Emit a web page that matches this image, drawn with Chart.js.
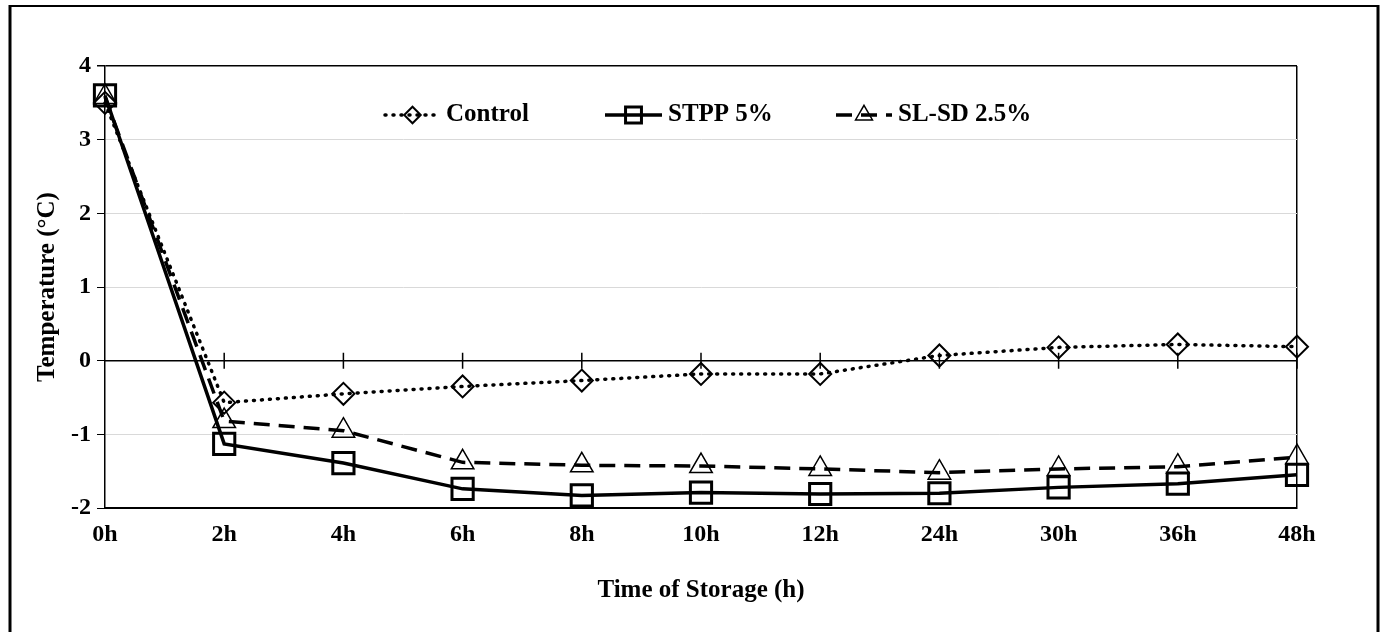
<!DOCTYPE html>
<html>
<head>
<meta charset="utf-8">
<script src="https://cdn.jsdelivr.net/npm/chart.js@4.4.0/dist/chart.umd.min.js"></script>
<style>
  body { margin: 0; background: #fff; }
  canvas { display: block; }
</style>
</head>
<body>
<canvas id="myChart" width="1383" height="632"></canvas>
<script>
// données
const labels = ['0h', '2h', '4h', '6h', '8h', '10h', '12h', '24h', '30h', '36h', '48h'];
const control = [3.5, -0.57, -0.45, -0.35, -0.27, -0.18, -0.18, 0.07, 0.18, 0.22, 0.19];
const stpp = [3.6, -1.13, -1.39, -1.74, -1.83, -1.79, -1.81, -1.8, -1.72, -1.67, -1.55];
const slsd = [3.58, -0.82, -0.95, -1.38, -1.42, -1.43, -1.47, -1.52, -1.47, -1.44, -1.31];
const yTicks = [-2, -1, 0, 1, 2, 3, 4];

const FONT = "'Liberation Serif', 'Times New Roman', serif";

// legende dessinee dans la zone du graphique
const legendItems = [
  { idx: 0, x0: 385, x1: 440, text: 'Control' },
  { idx: 1, x0: 605, x1: 662, text: 'STPP 5%' },
  { idx: 2, x0: 836, x1: 892, text: 'SL-SD 2.5%' }
];

const extras = {
  id: 'extras',
  beforeDatasetsDraw(chart) {
    // axe horizontal a 0 avec graduations
    const ctx = chart.ctx;
    const x = chart.scales.x, y = chart.scales.y;
    const y0 = y.getPixelForValue(0);
    ctx.save();
    ctx.strokeStyle = '#000';
    ctx.lineWidth = 1.5;
    ctx.beginPath();
    ctx.moveTo(chart.chartArea.left, y0);
    ctx.lineTo(chart.chartArea.right, y0);
    for (let i = 1; i < labels.length; i++) {
      const px = x.getPixelForValue(i);
      ctx.moveTo(px, y0 - 8);
      ctx.lineTo(px, y0 + 8);
    }
    ctx.stroke();
    ctx.restore();
  },
  afterDraw(chart) {
    const ctx = chart.ctx;
    const ly = 115;
    ctx.save();
    legendItems.forEach((it) => {
      const ds = chart.data.datasets[it.idx];
      ctx.strokeStyle = '#000';
      ctx.lineWidth = ds.borderWidth;
      ctx.lineCap = ds.borderCapStyle || 'butt';
      ctx.setLineDash(ds.borderDash || []);
      ctx.beginPath();
      ctx.moveTo(it.x0, ly);
      ctx.lineTo(it.x1, ly);
      ctx.stroke();
      ctx.setLineDash([]);
      ctx.lineCap = 'butt';
      ctx.lineWidth = ds.pointBorderWidth;
      ctx.fillStyle = 'rgba(0,0,0,0)';
      Chart.helpers.drawPoint(ctx, {
        pointStyle: ds.pointStyle,
        radius: ds.pointRadius * 0.75,
        rotation: 0,
        borderWidth: ds.pointBorderWidth
      }, (it.x0 + it.x1) / 2, ly);
      ctx.fillStyle = '#000';
      ctx.font = 'bold 25px ' + FONT;
      ctx.textBaseline = 'middle';
      ctx.fillText(it.text, it.x1 + 6, ly);
    });
    // cadre exterieur
    ctx.strokeStyle = '#000';
    ctx.lineWidth = 2;
    ctx.beginPath();
    ctx.moveTo(9, 6);
    ctx.lineTo(1378, 6);
    ctx.stroke();
    ctx.lineWidth = 3;
    ctx.beginPath();
    ctx.moveTo(10, 5);
    ctx.lineTo(10, 632);
    ctx.moveTo(1378, 5);
    ctx.lineTo(1378, 632);
    ctx.stroke();
    ctx.restore();
  }
};

const ctx = document.getElementById('myChart').getContext('2d');
const myChart = new Chart(ctx, {
  type: 'line',
  data: {
    labels: labels,
    datasets: [
      {
        label: 'Control',
        data: control,
        borderColor: '#000',
        borderWidth: 3.5,
        borderDash: [1, 7],
        borderCapStyle: 'round',
        pointStyle: 'rectRot',
        pointRadius: 11,
        pointBorderWidth: 2,
        pointBackgroundColor: 'rgba(0,0,0,0)',
        pointBorderColor: '#000',
        tension: 0
      },
      {
        label: 'STPP 5%',
        data: stpp,
        borderColor: '#000',
        borderWidth: 3.5,
        pointStyle: 'rect',
        pointRadius: 15,
        pointBorderWidth: 3,
        pointBackgroundColor: 'rgba(0,0,0,0)',
        pointBorderColor: '#000',
        tension: 0
      },
      {
        label: 'SL-SD 2.5%',
        data: slsd,
        borderColor: '#000',
        borderWidth: 3.5,
        borderDash: [16, 9],
        pointStyle: 'triangle',
        pointRadius: 13,
        pointBorderWidth: 1.5,
        pointBackgroundColor: 'rgba(0,0,0,0)',
        pointBorderColor: '#000',
        tension: 0
      }
    ]
  },
  options: {
    responsive: false,
    devicePixelRatio: 1,
    animation: { duration: 0 },
    layout: { padding: { top: 66, right: 86, left: 0, bottom: 0 } },
    plugins: {
      legend: { display: false },
      tooltip: { enabled: false }
    },
    scales: {
      x: {
        offset: false,
        grid: {
          color: (c) => (c.index === labels.length - 1 ? '#000' : 'rgba(0,0,0,0)'),
          lineWidth: 1.5,
          drawTicks: false
        },
        border: { color: '#000', width: 2 },
        ticks: {
          color: '#000',
          padding: 12,
          maxRotation: 0,
          autoSkip: false,
          font: { family: FONT, size: 24, weight: 'bold' }
        },
        title: {
          display: true,
          text: 'Time of Storage (h)',
          color: '#000',
          padding: { top: 0, bottom: 26 },
          font: { family: FONT, size: 25, weight: 'bold' }
        },
        afterFit: (scale) => { scale.height = 124; }
      },
      y: {
        min: -2,
        max: 4,
        afterBuildTicks: (scale) => { scale.ticks = yTicks.map((v) => ({ value: v })); },
        grid: {
          color: (c) => ((c.tick.value === 4 || c.tick.value === 0) ? '#000' : '#d9d9d9'),
          lineWidth: (c) => ((c.tick.value === 4) ? 1.5 : 1),
          tickColor: '#000',
          tickLength: 8
        },
        border: { color: '#000', width: 1.5 },
        ticks: {
          color: '#000',
          padding: 6,
          font: { family: FONT, size: 24, weight: 'bold' }
        },
        title: {
          display: true,
          text: 'Temperature (°C)',
          color: '#000',
          padding: 33,
          font: { family: FONT, size: 25, weight: 'bold' }
        },
        afterFit: (scale) => { scale.width = 105; }
      }
    }
  },
  plugins: [extras]
});
</script>
</body>
</html>
